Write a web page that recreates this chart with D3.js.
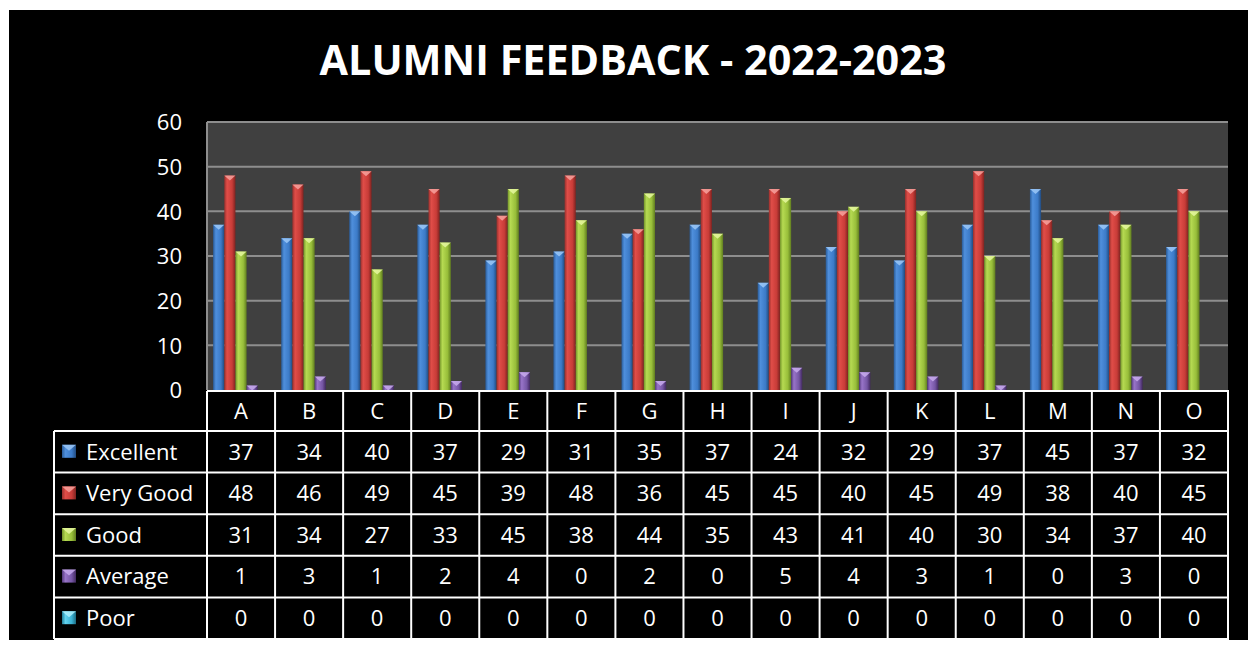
<!DOCTYPE html>
<html>
<head>
<meta charset="utf-8">
<script src="https://cdn.jsdelivr.net/npm/d3@7"></script>
<style>
  html, body { margin: 0; padding: 0; background: #ffffff; }
  svg { display: block; }
</style>
</head>
<body>
<div id="chart"></div>
<script>
// data
var categories = ['A', 'B', 'C', 'D', 'E', 'F', 'G', 'H', 'I', 'J', 'K', 'L', 'M', 'N', 'O'];
var seriesNames = ['Excellent', 'Very Good', 'Good', 'Average', 'Poor'];
var excellent = [37, 34, 40, 37, 29, 31, 35, 37, 24, 32, 29, 37, 45, 37, 32];
var veryGood  = [48, 46, 49, 45, 39, 48, 36, 45, 45, 40, 45, 49, 38, 40, 45];
var good      = [31, 34, 27, 33, 45, 38, 44, 35, 43, 41, 40, 30, 34, 37, 40];
var average   = [1, 3, 1, 2, 4, 0, 2, 0, 5, 4, 3, 1, 0, 3, 0];
var poor      = [0, 0, 0, 0, 0, 0, 0, 0, 0, 0, 0, 0, 0, 0, 0];
var yTicks    = [0, 10, 20, 30, 40, 50, 60];
var title     = 'ALUMNI FEEDBACK - 2022-2023';

var seriesValues = [excellent, veryGood, good, average, poor];

// colours: [dark edge, light, mid, shadow]
var colours = {
    'Excellent': ['#2a5c99', '#4f8fdc', '#3c7bc8', '#214b80'],
    'Very Good': ['#98302d', '#e04d48', '#c83c38', '#7e2320'],
    'Good':      ['#74952a', '#b6da52', '#98be3a', '#607d1f'],
    'Average':   ['#553a7c', '#9874c8', '#7556a4', '#42295f'],
    'Poor':      ['#237f98', '#62d2ee', '#3ab0d2', '#1b6a80']
};
var capColours = {
    'Excellent': '#9cc8f7',
    'Very Good': '#f7a29d',
    'Good':      '#e6f8a0',
    'Average':   '#c8aced',
    'Poor':      '#aeeefb'
};

var width = 1248, height = 645;
var plot = { left: 207, right: 1228, top: 122, bottom: 390 };
var table = { top: 391, headerBottom: 431, rowH: 41.6, legendLeft: 54 };
var font = '"Open Sans", "Noto Sans", sans-serif';
var fontSize = '22px';

var svg = d3.select('#chart')
    .append('svg')
    .attr('width', width)
    .attr('height', height);

var defs = svg.append('defs');
seriesNames.forEach(function (s, i) {
    var c = colours[s];
    var grad = defs.append('linearGradient')
        .attr('id', 'grad' + i)
        .attr('x1', '0').attr('x2', '1').attr('y1', '0').attr('y2', '0');
    grad.append('stop').attr('offset', '0%').attr('stop-color', c[0]);
    grad.append('stop').attr('offset', '25%').attr('stop-color', c[1]);
    grad.append('stop').attr('offset', '70%').attr('stop-color', c[2]);
    grad.append('stop').attr('offset', '100%').attr('stop-color', c[3]);
});

// background
svg.append('rect')
    .attr('x', 9).attr('y', 10)
    .attr('width', width - 9).attr('height', 630)
    .attr('fill', '#000000');

// title
svg.append('text')
    .attr('x', 633)
    .attr('y', 75)
    .attr('text-anchor', 'middle')
    .attr('fill', '#ffffff')
    .style('font-family', font)
    .style('font-weight', 'bold')
    .style('font-size', '41px')
    .attr('textLength', 627)
    .attr('lengthAdjust', 'spacingAndGlyphs')
    .text(title);

// scales
var x = d3.scaleBand()
    .domain(categories)
    .range([plot.left, plot.right])
    .padding(0);

var bw = x.bandwidth();
var x1 = d3.scaleBand()
    .domain(seriesNames)
    .range([bw * 0.09, bw * 0.91])
    .padding(0);

var y = d3.scaleLinear()
    .domain([0, 60])
    .range([plot.bottom, plot.top]);

// plot area
svg.append('rect')
    .attr('x', plot.left).attr('y', plot.top)
    .attr('width', plot.right - plot.left)
    .attr('height', plot.bottom - plot.top)
    .attr('fill', '#404040');

// gridlines
svg.append('g')
    .selectAll('line')
    .data(yTicks.filter(function (d) { return d > 0; }))
    .join('line')
    .attr('x1', plot.left).attr('x2', plot.right)
    .attr('y1', function (d) { return y(d); })
    .attr('y2', function (d) { return y(d); })
    .attr('stroke', '#8e8e8e')
    .attr('stroke-width', 2);

svg.append('line')
    .attr('x1', plot.left).attr('x2', plot.left)
    .attr('y1', plot.top).attr('y2', plot.bottom)
    .attr('stroke', '#8e8e8e')
    .attr('stroke-width', 2);

// y axis
var yAxis = d3.axisLeft(y).tickValues(yTicks).tickSize(0).tickPadding(0);
var yg = svg.append('g')
    .attr('transform', 'translate(182,0)')
    .call(yAxis);
yg.select('.domain').remove();
yg.selectAll('text')
    .attr('fill', '#ffffff')
    .attr('dy', '0.35em')
    .style('font-family', font)
    .style('font-size', fontSize);

// bars
seriesNames.forEach(function (s, i) {
    var g = svg.append('g').attr('class', 'series');
    var data = categories.map(function (c, j) { return { cat: c, v: seriesValues[i][j] }; });
    var bars = data.filter(function (d) { return d.v > 0; });
    var bx = function (d) { return x(d.cat) + x1(s); };
    var w = x1.bandwidth();

    g.selectAll('rect')
        .data(bars)
        .join('rect')
        .attr('x', bx)
        .attr('y', function (d) { return y(d.v); })
        .attr('width', w)
        .attr('height', function (d) { return y(0) - y(d.v); })
        .attr('fill', 'url(#grad' + i + ')');

    // bevel cap
    g.selectAll('path')
        .data(bars)
        .join('path')
        .attr('d', function (d) {
            var x0 = bx(d), y0 = y(d.v);
            return 'M' + x0 + ',' + y0 + 'L' + (x0 + w) + ',' + y0 + 'L' + (x0 + w / 2) + ',' + (y0 + 5) + 'Z';
        })
        .attr('fill', capColours[s])
        .attr('opacity', 0.85);
});

// data table
var tbl = svg.append('g').attr('class', 'table');
var tableBottom = table.headerBottom + table.rowH * seriesNames.length;

// horizontal lines
tbl.append('line')
    .attr('x1', plot.left).attr('x2', plot.right + 1)
    .attr('y1', table.top).attr('y2', table.top);
seriesNames.concat(['end']).forEach(function (s, i) {
    var yy = table.headerBottom + table.rowH * i;
    tbl.append('line')
        .attr('x1', table.legendLeft).attr('x2', plot.right + 1)
        .attr('y1', yy).attr('y2', yy);
});

// vertical lines
categories.forEach(function (c) {
    tbl.append('line')
        .attr('x1', x(c)).attr('x2', x(c))
        .attr('y1', table.top).attr('y2', tableBottom);
});
tbl.append('line')
    .attr('x1', plot.right).attr('x2', plot.right)
    .attr('y1', table.top).attr('y2', tableBottom);
tbl.append('line')
    .attr('x1', table.legendLeft).attr('x2', table.legendLeft)
    .attr('y1', table.headerBottom).attr('y2', tableBottom);

tbl.selectAll('line')
    .attr('stroke', '#ffffff')
    .attr('stroke-width', 2);

// header letters
tbl.selectAll('text.head')
    .data(categories)
    .join('text')
    .attr('class', 'head')
    .attr('x', function (d) { return x(d) + bw / 2; })
    .attr('y', (table.top + table.headerBottom) / 2)
    .attr('dy', '0.35em')
    .attr('text-anchor', 'middle')
    .attr('fill', '#ffffff')
    .style('font-family', font)
    .style('font-size', fontSize)
    .text(function (d) { return d; });

// rows
seriesNames.forEach(function (s, i) {
    var cy = table.headerBottom + table.rowH * i + table.rowH / 2;

    tbl.append('rect')
        .attr('x', 62).attr('y', cy - 7)
        .attr('width', 14).attr('height', 13)
        .attr('fill', 'url(#grad' + i + ')');
    tbl.append('path')
        .attr('d', 'M62,' + (cy - 7) + 'L76,' + (cy - 7) + 'L69,' + (cy - 1) + 'Z')
        .attr('fill', capColours[s])
        .attr('opacity', 0.85);

    tbl.append('text')
        .attr('x', 86)
        .attr('y', cy)
        .attr('dy', '0.35em')
        .attr('fill', '#ffffff')
        .style('font-family', font)
        .style('font-size', fontSize)
        .text(s);

    tbl.selectAll('text.v' + i)
        .data(categories)
        .join('text')
        .attr('class', 'v' + i)
        .attr('x', function (d) { return x(d) + bw / 2; })
        .attr('y', cy)
        .attr('dy', '0.35em')
        .attr('text-anchor', 'middle')
        .attr('fill', '#ffffff')
        .style('font-family', font)
        .style('font-size', fontSize)
        .text(function (d, j) { return seriesValues[i][j]; });
});
</script>
</body>
</html>
